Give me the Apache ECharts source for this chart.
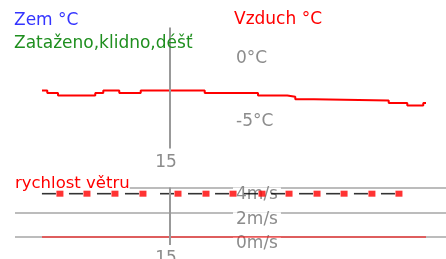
<!DOCTYPE html>
<html>
<head>
<meta charset="utf-8">
<title>Počasí</title>
<script src="https://cdn.jsdelivr.net/npm/echarts@6/dist/echarts.min.js"></script>
<style>
  html, body { margin: 0; padding: 0; background: #fff; }
  #chart { width: 446px; height: 259px; }
</style>
</head>
<body>
<div id="chart"></div>
<script>
// hodiny od 7:00 (31 = 7:00 dalšího dne)
var tempHours = [7, 7.33, 8, 10.33, 10.83, 11.83, 13.17, 17.17, 20.5, 22.33, 22.83, 24, 28.67, 29.83, 30.83, 31];
var airTemp = [-2.5, -2.7, -2.9, -2.7, -2.5, -2.7, -2.5, -2.7, -2.9, -3.0, -3.2, -3.3, -3.5, -3.7, -3.5, -3.5];

var windHours = [8.12, 9.81, 11.56, 13.31, 15.5, 17.25, 18.94, 20.75, 22.44, 24.19, 25.88, 27.62, 29.31];
var windSpeed = [3.5, 3.5, 3.5, 3.5, 3.5, 3.5, 3.5, 3.5, 3.5, 3.5, 3.5, 3.5, 3.5];

var zeroHours = [7, 31];
var zeroLine = [0, 0];

var markHour = 15;
var tempTicks = [0, -5];
var windTicks = [0, 2, 4];

function pairs(xs, ys) {
  return xs.map(function (x, i) { return [x, ys[i]]; });
}

var font = 'DejaVu Sans';
var gray = '#8c8c8c';
var gridGray = '#a6a6a6';

var chart = echarts.init(document.getElementById('chart'));

function hourAxis(idx, margin) {
  return {
    type: 'value', gridIndex: idx, min: 5.3125, max: 32.25,
    axisLine: { show: false }, axisTick: { show: false }, splitLine: { show: false },
    axisLabel: {
      margin: margin, color: gray, fontFamily: font, fontSize: 17, padding: [0, 8, 0, 0],
      formatter: function (v) { return v === markHour ? String(markHour) : ''; }
    }
  };
}

function markV(from, to) {
  return {
    silent: true, symbol: ['none', 'none'], label: { show: false },
    lineStyle: { color: '#999', width: 2, type: 'solid' },
    emphasis: { disabled: true },
    data: [[{ coord: [markHour, from] }, { coord: [markHour, to] }]]
  };
}

chart.setOption({
  animation: false,
  title: [
    { text: 'Zem °C', left: 14, top: 12, padding: 0,
      textStyle: { color: '#3434ff', fontFamily: font, fontSize: 17, fontWeight: 'normal' } },
    { text: 'Zataženo,klidno,déšť', left: 14, top: 35, padding: 0,
      textStyle: { color: '#1f8f1f', fontFamily: font, fontSize: 17, fontWeight: 'normal' } },
    { text: 'Vzduch °C', left: 234, top: 11, padding: 0,
      textStyle: { color: '#ff0000', fontFamily: font, fontSize: 17, fontWeight: 'normal' } },
    { text: 'rychlost větru', left: 15, top: 177.5, padding: 0, backgroundColor: '#fff', z: 1,
      textStyle: { color: '#ff0000', fontFamily: font, fontSize: 16.5, fontWeight: 'normal', lineHeight: 13 } }
  ],
  grid: [
    { left: 15, right: 0, top: 27.5, height: 126, outerBoundsMode: 'none', containLabel: false },
    { left: 15, right: 0, top: 187.5, height: 74.25, outerBoundsMode: 'none', containLabel: false }
  ],
  xAxis: [hourAxis(0, 1), hourAxis(1, -12)],
  yAxis: [
    {
      type: 'value', gridIndex: 0, min: -7.5, max: 2.5, interval: 2.5,
      axisLine: { show: false }, axisTick: { show: false }, splitLine: { show: false },
      axisLabel: {
        align: 'left', margin: -221, color: gray, fontFamily: font, fontSize: 17,
        formatter: function (v) { return tempTicks.indexOf(v) >= 0 ? v + '°C' : ''; }
      }
    },
    {
      type: 'value', gridIndex: 1, min: -2, max: 4, interval: 2,
      axisLine: { show: false }, axisTick: { show: false },
      splitLine: { lineStyle: { color: gridGray, width: 1.5 } },
      axisLabel: {
        align: 'left', verticalAlign: 'top', margin: -218, lineHeight: 12,
        padding: [1, 3, 0, 3], backgroundColor: '#fff',
        color: gray, fontFamily: font, fontSize: 17,
        formatter: function (v) { return windTicks.indexOf(v) >= 0 ? v + 'm/s' : ''; }
      }
    }
  ],
  series: [
    {
      name: 'Vzduch °C', type: 'line', xAxisIndex: 0, yAxisIndex: 0,
      data: pairs(tempHours, airTemp), step: 'end', symbol: 'none',
      lineStyle: { color: '#ff0000', width: 2 },
      markLine: markV(2.5, -7.1)
    },
    {
      name: 'nárazy', type: 'line', xAxisIndex: 1, yAxisIndex: 1,
      data: pairs(zeroHours, zeroLine), symbol: 'none',
      lineStyle: { color: '#ff0000', width: 1.2 },
      markLine: markV(4, -0.64)
    },
    {
      name: 'směr', type: 'scatter', xAxisIndex: 1, yAxisIndex: 1,
      data: pairs(windHours, windSpeed), symbol: 'rect',
      symbolSize: [14, 1.6], symbolOffset: [-11, 0],
      itemStyle: { color: '#000' }
    },
    {
      name: 'rychlost větru', type: 'scatter', xAxisIndex: 1, yAxisIndex: 1,
      data: pairs(windHours, windSpeed), symbol: 'rect',
      symbolSize: [7, 6], itemStyle: { color: '#ff0000' }
    }
  ]
});
</script>
</body>
</html>
